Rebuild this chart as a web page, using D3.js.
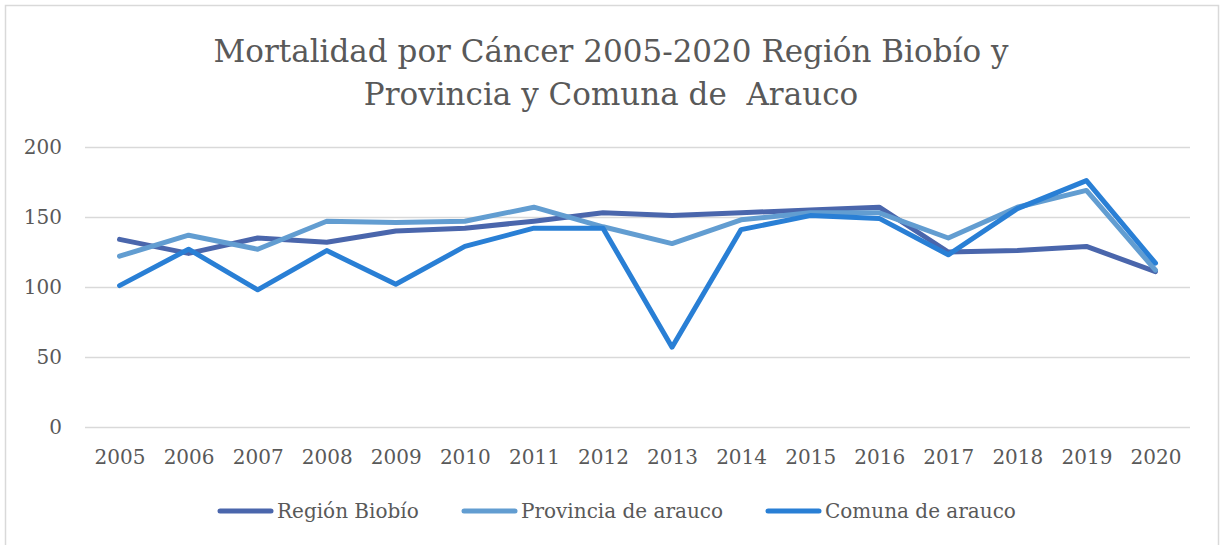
<!DOCTYPE html>
<html>
<head>
<meta charset="utf-8">
<script src="https://cdn.jsdelivr.net/npm/d3@7"></script>
<style>
  body { margin: 0; background: #fff; }
  text { font-family: "DejaVu Serif", serif; fill: #595959; }
</style>
</head>
<body>
<script>
var svgWidth = 1221, svgHeight = 545;
var margin = {top: 147, right: 31, bottom: 118, left: 85};
var width = svgWidth - margin.left - margin.right,
    height = svgHeight - margin.top - margin.bottom;

// datos
var years = ["2005","2006","2007","2008","2009","2010","2011","2012","2013","2014","2015","2016","2017","2018","2019","2020"];
var regionBiobio = [134,124,135,132,140,142,147,153,151,153,155,157,125,126,129,111];
var provinciaArauco = [122,137,127,147,146,147,157,143,131,148,153,153,135,157,169,112];
var comunaArauco = [101,127,98,126,102,129,142,142,57,141,151,149,123,156,176,117];
var yTicks = [0,50,100,150,200];
var seriesNames = ["Región Biobío", "Provincia de arauco", "Comuna de arauco"];
var seriesColors = ["#4A66AC", "#629DD1", "#297FD5"];
var titleLines = ["Mortalidad por Cáncer 2005-2020 Región Biobío y", "Provincia y Comuna de  Arauco"];

var series = [regionBiobio, provinciaArauco, comunaArauco];

var svg = d3.select("body").append("svg")
    .attr("width", svgWidth)
    .attr("height", svgHeight);

// borde del grafico
svg.append("rect")
    .attr("x", 5.5).attr("y", 5.5)
    .attr("width", 1213).attr("height", 600)
    .attr("fill", "none")
    .attr("stroke", "#D9D9D9")
    .attr("stroke-width", 1.5);

// titulo
svg.append("text")
    .attr("x", 611).attr("y", 62)
    .attr("text-anchor", "middle")
    .attr("font-size", "31px")
    .selectAll("tspan")
    .data(titleLines)
    .enter().append("tspan")
    .attr("x", 611)
    .attr("dy", function(d, i){ return i === 0 ? 0 : 43; })
    .style("white-space", "pre")
    .text(function(d){ return d; });

var g = svg.append("g")
    .attr("transform", "translate(" + margin.left + "," + margin.top + ")");

var xScale = d3.scalePoint()
    .domain(years)
    .range([0, width])
    .padding(0.5);

var yScale = d3.scaleLinear()
    .domain([0, 200])
    .range([height, 0]);

// lineas de grilla + eje y
var yAxis = g.append("g")
    .call(d3.axisLeft(yScale).tickValues(yTicks).tickSize(-width).tickPadding(23));
yAxis.select(".domain").remove();
yAxis.selectAll(".tick line")
    .attr("stroke", "#D9D9D9")
    .attr("stroke-width", 1.5);
yAxis.selectAll(".tick text")
    .attr("font-size", "20px")
    .attr("font-family", "DejaVu Serif")
    .attr("fill", "#595959");

// eje x
var xAxis = g.append("g")
    .attr("transform", "translate(0," + height + ")")
    .call(d3.axisBottom(xScale).tickSize(0).tickPadding(23));
xAxis.select(".domain").remove();
xAxis.selectAll(".tick text")
    .attr("font-size", "20px")
    .attr("font-family", "DejaVu Serif")
    .attr("fill", "#595959");

var line = d3.line()
    .x(function(d, i){ return xScale(years[i]); })
    .y(function(d){ return yScale(d); });

g.selectAll("path.serie")
    .data(series)
    .enter().append("path")
    .attr("class", "serie")
    .attr("d", line)
    .attr("fill", "none")
    .attr("stroke", function(d, i){ return seriesColors[i]; })
    .attr("stroke-width", 5)
    .attr("stroke-linejoin", "round")
    .attr("stroke-linecap", "round");

// leyenda
var legendX = [218, 462, 766];
var legend = svg.append("g").selectAll("g")
    .data(seriesNames)
    .enter().append("g")
    .attr("transform", function(d, i){ return "translate(" + legendX[i] + ",511)"; });
legend.append("line")
    .attr("x1", 2).attr("x2", 53)
    .attr("y1", 0).attr("y2", 0)
    .attr("stroke", function(d, i){ return seriesColors[i]; })
    .attr("stroke-width", 5)
    .attr("stroke-linecap", "round");
legend.append("text")
    .attr("x", 59).attr("y", 7)
    .attr("font-size", "20px")
    .text(function(d){ return d; });
</script>
</body>
</html>
